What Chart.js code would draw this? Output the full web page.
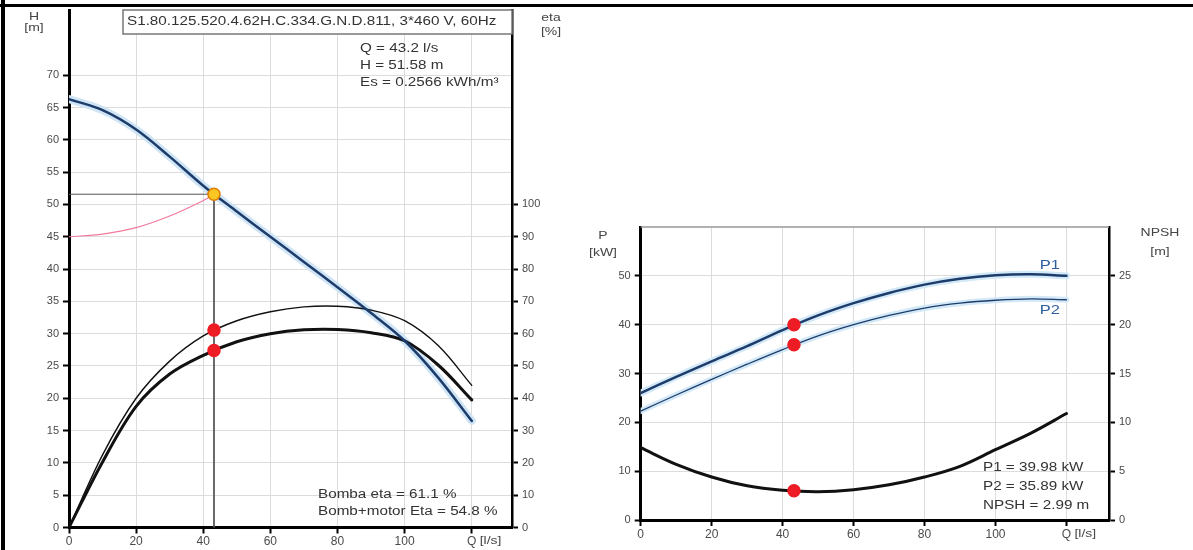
<!DOCTYPE html>
<html>
<head>
<meta charset="utf-8">
<script src="https://cdn.jsdelivr.net/npm/chart.js@4.4.0/dist/chart.umd.min.js"></script>
<style>
  body { margin: 0; background: #fff; width: 1193px; height: 550px; position: relative; overflow: hidden; }
  #headChart { position: absolute; left: 0; top: 0; }
  #powerChart { position: absolute; left: 560px; top: 200px; }
  #frameTop { position: absolute; left: 0; top: 4px; width: 1193px; height: 3px; background: #000; }
  #frameLeft { position: absolute; left: 1px; top: 0; width: 4px; height: 550px; background: #000; }
</style>
</head>
<body>
<canvas id="headChart" width="580" height="550"></canvas>
<canvas id="powerChart" width="633" height="350"></canvas>
<div id="frameTop"></div>
<div id="frameLeft"></div>
<script>
/* =====================
   DATA
===================== */
const flowQ = [0, 10, 20, 30, 40, 50, 60, 70, 80, 90, 100, 110, 120];
const headH = [66.3, 64.6, 61.6, 57.4, 52.9, 48.9, 45.0, 41.1, 37.2, 33.2, 28.9, 23.2, 16.5];
const pumpEta = [0, 22.5, 40.0, 51.5, 59.3, 64.0, 66.8, 68.3, 68.5, 67.3, 64.0, 56.3, 44.0];
const totalEta = [0, 20.3, 37.5, 47.5, 53.3, 57.5, 60.0, 61.2, 61.3, 60.3, 57.8, 50.3, 39.5];

const systemQ = [0, 10, 20, 30, 40, 43.2];
const systemH = [45.0, 45.4, 46.4, 48.2, 50.6, 51.58];

const powerP1 = [26.0, 29.3, 32.5, 35.6, 38.9, 41.9, 44.4, 46.5, 48.2, 49.4, 50.1, 50.3, 50.0];
const powerP2 = [22.3, 25.6, 28.8, 31.9, 34.9, 37.7, 40.0, 41.9, 43.4, 44.4, 45.0, 45.3, 45.1];
const npshR = [7.4, 5.7, 4.4, 3.5, 3.05, 2.9, 3.1, 3.6, 4.4, 5.5, 7.2, 8.9, 10.9];

// duty point
const opQ = 43.2;
const opH = 51.58;
const opPumpEta = 61.1;
const opTotalEta = 54.8;
const opP1 = 39.98;
const opP2 = 35.89;
const opNpsh = 2.99;

// axis ticks
const qTicks = [0, 20, 40, 60, 80, 100, 120];
const hTicks = [0, 5, 10, 15, 20, 25, 30, 35, 40, 45, 50, 55, 60, 65, 70];
const etaTicks = [0, 10, 20, 30, 40, 50, 60, 70, 80, 90, 100];
const pTicks = [0, 10, 20, 30, 40, 50];
const npshTicks = [0, 5, 10, 15, 20, 25];

const titleText = "S1.80.125.520.4.62H.C.334.G.N.D.811, 3*460 V, 60Hz";

/* =====================
   HELPERS
===================== */
Chart.defaults.font.family = '"Liberation Sans", Arial, sans-serif';
Chart.defaults.animation = false;

const pts = (xs, ys) => xs.map((x, i) => ({ x: x, y: ys[i] }));
const fixTicks = list => axis => { axis.ticks = list.map(v => ({ value: v })); };

function wideText(ctx, text, x, y, size, color, align) {
  ctx.save();
  ctx.font = size + 'px "Liberation Sans", Arial, sans-serif';
  ctx.fillStyle = color || "#333";
  ctx.textBaseline = "middle";
  ctx.textAlign = align || "left";
  ctx.translate(x, y);
  ctx.scale(1.27, 1);
  ctx.fillText(text, 0, 0);
  ctx.restore();
}

function curve(data, axis, color, width, order) {
  return {
    data: data, yAxisID: axis, borderColor: color, borderWidth: width,
    pointRadius: 0, tension: 0.35, fill: false, order: order,
    borderCapStyle: "round", borderJoinStyle: "round"
  };
}

function dots(data, axis, fillColor, edgeColor, order) {
  return {
    data: data, yAxisID: axis, showLine: false, pointRadius: 6, pointHoverRadius: 6,
    pointBackgroundColor: fillColor, pointBorderColor: edgeColor, pointBorderWidth: 1.5,
    order: order
  };
}

const gridStyle = { color: "#dcdcdc", tickColor: "#000", tickLength: 6, tickWidth: 2 };
const tickFont = { size: 12 };

function qAxis(height) {
  return {
    type: "linear", min: 0, max: 132,
    afterBuildTicks: fixTicks(qTicks),
    afterFit: s => { s.height = height; },
    ticks: { callback: v => v === 120 ? "Q" : v, color: "#4a4a4a", font: tickFont, padding: 1, maxRotation: 0, autoSkip: false },
    grid: gridStyle,
    border: { color: "#000", width: 3 }
  };
}

function valueAxis(side, max, list, width, onArea) {
  return {
    type: "linear", position: side, min: 0, max: max,
    afterBuildTicks: fixTicks(list),
    afterFit: s => { s.width = width; },
    ticks: { color: "#4a4a4a", font: { size: 11 }, padding: 4, autoSkip: false },
    grid: Object.assign({ drawOnChartArea: onArea }, gridStyle),
    border: { color: "#000", width: side === "left" ? 3 : 2.5 }
  };
}

/* =====================
   HEAD / EFFICIENCY
===================== */
const headLabels = {
  id: "headLabels",
  afterDraw(chart) {
    const ctx = chart.ctx;
    const xs = chart.scales.x;

    ctx.save();
    ctx.fillStyle = "#fff";
    ctx.fillRect(123, 10, 389, 24);
    ctx.strokeStyle = "#777";
    ctx.lineWidth = 1.5;
    ctx.strokeRect(123, 10, 389, 24);
    ctx.restore();
    wideText(ctx, titleText, 127, 22, 12, "#333");

    wideText(ctx, "Q = " + opQ + " l/s", 360, 49, 12);
    wideText(ctx, "H = " + opH + " m", 360, 66, 12);
    wideText(ctx, "Es = 0.2566 kWh/m\u00b3", 360, 83, 12);

    wideText(ctx, "Bomba eta = " + opPumpEta + " %", 318, 495, 12);
    wideText(ctx, "Bomb+motor Eta = " + opTotalEta + " %", 318, 512, 12);

    wideText(ctx, "H", 34, 17, 11, "#444", "center");
    wideText(ctx, "[m]", 34, 28, 11, "#444", "center");
    wideText(ctx, "eta", 551, 18, 11, "#444", "center");
    wideText(ctx, "[%]", 551, 32, 11, "#444", "center");

    wideText(ctx, "[l/s]", xs.getPixelForValue(120) + 8, 541, 11, "#4a4a4a");
  }
};

new Chart(document.getElementById("headChart"), {
  type: "line",
  data: {
    datasets: [
      dots([{ x: opQ, y: opH }], "yH", "#f9c623", "#e07c00", 0),
      dots([{ x: opQ, y: opPumpEta }, { x: opQ, y: opTotalEta }], "yEta", "#ee1c24", "#ee1c24", 1),
      curve(pts(flowQ, headH), "yH", "#1d3c6b", 2.5, 5),
      curve(pts(flowQ, pumpEta), "yEta", "#111", 1.4, 6),
      curve(pts(flowQ, totalEta), "yEta", "#111", 3, 6),
      curve(pts(flowQ, headH), "yH", "#cfe5f5", 8, 20),
      curve(pts(systemQ, systemH), "yH", "#f27a9c", 1.2, 8),
      Object.assign(curve([{ x: 0, y: opH }, { x: opQ, y: opH }, { x: opQ, y: 0 }], "yH", "#555", 1, 9),
        { tension: 0 })
    ]
  },
  options: {
    responsive: false,
    layout: { padding: { top: 10, left: 0, right: 0, bottom: 0 } },
    plugins: { legend: { display: false }, tooltip: { enabled: false } },
    scales: {
      x: qAxis(22.5),
      yH: valueAxis("left", 80, hTicks, 69, true),
      yEta: valueAxis("right", 160, etaTicks, 68, false)
    }
  },
  plugins: [headLabels]
});

/* =====================
   POWER / NPSH
===================== */
const powerLabels = {
  id: "powerLabels",
  afterDraw(chart) {
    const ctx = chart.ctx;
    const a = chart.chartArea;
    const xs = chart.scales.x;

    ctx.save();
    ctx.strokeStyle = "#999";
    ctx.lineWidth = 1.5;
    ctx.beginPath();
    ctx.moveTo(a.left, a.top);
    ctx.lineTo(a.right, a.top);
    ctx.stroke();
    ctx.restore();

    wideText(ctx, "P", 43, 36, 11, "#444", "center");
    wideText(ctx, "[kW]", 43, 53, 11, "#444", "center");
    wideText(ctx, "NPSH", 600, 33, 11, "#444", "center");
    wideText(ctx, "[m]", 600, 52, 11, "#444", "center");

    wideText(ctx, "P1", 500, 65, 13, "#2d5f9e", "right");
    wideText(ctx, "P2", 500, 110, 13, "#2d5f9e", "right");

    wideText(ctx, "P1 = " + opP1 + " kW", 423, 268, 12);
    wideText(ctx, "P2 = " + opP2 + " kW", 423, 287, 12);
    wideText(ctx, "NPSH = " + opNpsh + " m", 423, 306, 12);

    wideText(ctx, "[l/s]", xs.getPixelForValue(120) + 8, 334, 11, "#4a4a4a");
  }
};

new Chart(document.getElementById("powerChart"), {
  type: "line",
  data: {
    datasets: [
      dots([{ x: opQ, y: opP1 }, { x: opQ, y: opP2 }], "yP", "#ee1c24", "#ee1c24", 0),
      dots([{ x: opQ, y: opNpsh }], "yN", "#ee1c24", "#ee1c24", 0),
      curve(pts(flowQ, powerP1), "yP", "#1d3c6b", 2.5, 5),
      curve(pts(flowQ, powerP2), "yP", "#1d3c6b", 1.3, 5),
      curve(pts(flowQ, npshR), "yN", "#111", 3, 6),
      curve(pts(flowQ, powerP1), "yP", "#d3e9f7", 7, 20),
      curve(pts(flowQ, powerP2), "yP", "#d3e9f7", 6, 20)
    ]
  },
  options: {
    responsive: false,
    layout: { padding: { top: 27, left: 0, right: 0, bottom: 0 } },
    plugins: { legend: { display: false }, tooltip: { enabled: false } },
    scales: {
      x: qAxis(30),
      yP: valueAxis("left", 60, pTicks, 80.7, true),
      yN: valueAxis("right", 30, npshTicks, 84, false)
    }
  },
  plugins: [powerLabels]
});
</script>
</body>
</html>
